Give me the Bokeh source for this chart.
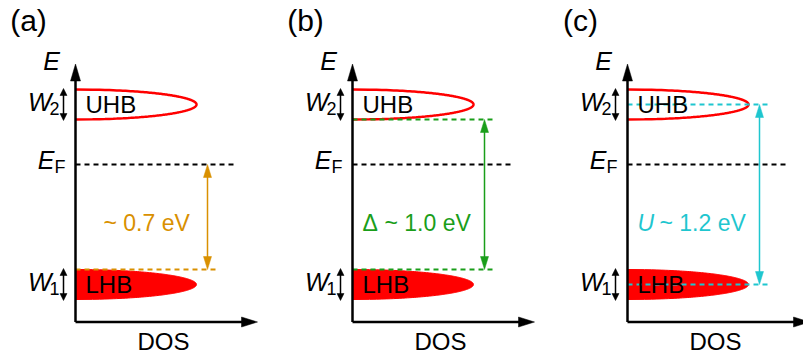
import numpy as np
from bokeh.plotting import figure
from bokeh.models import Range1d
from bokeh.core.properties import value
from bokeh.embed import file_html
from bokeh.resources import INLINE

# ---------------- data (energies in eV relative to E_F, DOS normalised) ----------------
panel_labels = ["(a)", "(b)", "(c)"]
E_F = 0.0
uhb_top, uhb_bottom = 0.50, 0.30
lhb_top, lhb_bottom = -0.70, -0.90
band_peak_dos = 1.0
gap_upper = [0.00, 0.30, 0.40]      # upper end of the gap arrow
gap_lower = [-0.70, -0.70, -0.80]   # lower end of the gap arrow
gap_symbol = ["", "Δ", "U"]
gap_text = ["~ 0.7 eV", "~ 1.0 eV", "~ 1.2 eV"]
gap_colors = ["#D99000", "#1A9E1A", "#1FC6CF"]
axis_top, axis_bottom = 0.67, -1.05

# ---------------- layout ----------------
PX_EV = 150.0        # pixels per eV
PX_DOS = 121.0       # pixels per DOS unit
Y0 = 164             # pixel row of E_F
panel_x0 = [75, 352, 627]
FONT = value("Liberation Sans")
BAND_RED = "#FF0000"
FS = "24px"
GFS = "23px"

p = figure(width=803, height=362, output_backend="svg", toolbar_location=None,
           x_range=Range1d(0, 803), y_range=Range1d(-(362 - Y0) / PX_EV, Y0 / PX_EV),
           min_border=0)
p.axis.visible = False
p.grid.visible = False
p.outline_line_color = None
p.background_fill_color = "white"
p.border_fill_color = "white"


def head(tx, ty, dx, dy, L, W):
    """triangle arrow head with tip at (tx, ty) pointing in screen direction (dx, dy)"""
    bx, by = -dx * L, -dy * L
    px_, py_ = -dy * W / 2, dx * W / 2
    xs = [tx, tx + bx + px_, tx + bx - px_]
    ys = [ty, ty + (by + py_) / PX_EV, ty + (by - py_) / PX_EV]
    return xs, ys


def add_heads(heads, color):
    p.patches([h[0] for h in heads], [h[1] for h in heads], fill_color=color,
              line_color=color, line_width=0.5)


def ey(py):
    return (Y0 - py) / PX_EV


t = np.linspace(-1, 1, 201)
ell = np.sqrt(np.clip(1 - t ** 2, 0, None))

for i, x0 in enumerate(panel_x0):
    # ---- bands ----
    uc, uh = (uhb_top + uhb_bottom) / 2, (uhb_top - uhb_bottom) / 2
    lc, lh = (lhb_top + lhb_bottom) / 2, (lhb_top - lhb_bottom) / 2
    p.line(x0 + PX_DOS * band_peak_dos * ell, uc + uh * t, line_color=BAND_RED, line_width=2.5)
    p.patch(list(x0 + PX_DOS * band_peak_dos * ell), list(lc + lh * t),
            fill_color=BAND_RED, line_color=BAND_RED, line_width=1)

    # ---- Fermi level ----
    p.line([x0, x0 + 160], [E_F, E_F], line_color="black", line_width=2, line_dash="5 4")

    # ---- gap markers ----
    c = gap_colors[i]
    levels = [gap_lower[i]] if i == 0 else [gap_upper[i], gap_lower[i]]
    for lv in levels:
        p.line([x0, x0 + 143], [lv, lv], line_color=c, line_width=2, line_dash="5 4")
    ax_ = x0 + 132
    p.line([ax_, ax_], [gap_upper[i] - 10 / PX_EV, gap_lower[i] + 10 / PX_EV], line_color=c, line_width=1.5)
    add_heads([head(ax_, gap_upper[i], 0, 1, 13, 8), head(ax_, gap_lower[i], 0, -1, 13, 8)], c)

    # ---- axes ----
    p.line([x0, x0], [axis_bottom, axis_top - 12 / PX_EV], line_color="black", line_width=2.5)
    p.line([x0, x0 + 170], [axis_bottom, axis_bottom], line_color="black", line_width=2.5)
    add_heads([head(x0, axis_top, 0, 1, 17, 10),
               head(x0 + 182, axis_bottom, 1, 0, 16, 10)], "black")

    # ---- width double arrows ----
    wx = x0 - 12
    for top, bot in [(uhb_top, uhb_bottom), (lhb_top, lhb_bottom)]:
        p.line([wx, wx], [top - 4 / PX_EV, bot + 4 / PX_EV], line_color="black", line_width=1.5)
        add_heads([head(wx, top + 1 / PX_EV, 0, 1, 7, 7),
                   head(wx, bot - 1 / PX_EV, 0, -1, 7, 7)], "black")

    # ---- text ----
    p.text([x0 - 47], [ey(20)], text=[panel_labels[i]], text_font=FONT,
           text_font_size="30px", text_align="center", text_baseline="middle")
    p.text([x0 - 24], [ey(60)], text=["E"], text_font=FONT, text_font_style="italic",
           text_font_size="25px", text_align="center", text_baseline="middle")
    # E_F
    p.text([x0 - 21], [E_F + 5 / PX_EV], text=["E"], text_font=FONT, text_font_style="italic",
           text_font_size="25px", text_align="right", text_baseline="middle")
    p.text([x0 - 21], [E_F - 2 / PX_EV], text=["F"], text_font=FONT,
           text_font_size="18px", text_align="left", text_baseline="middle")
    # W labels
    for c_, sub in [(uc, "2"), (lc, "1")]:
        p.text([x0 - 24], [c_ + 3 / PX_EV], text=["W"], text_font=FONT, text_font_style="italic",
               text_font_size="25px", text_align="right", text_baseline="middle")
        p.text([x0 - 26], [c_ - 4 / PX_EV], text=[sub], text_font=FONT,
               text_font_size="18px", text_align="left", text_baseline="middle")
    # band names
    p.text([x0 + 10, x0 + 10], [uc, lc], text=["UHB", "LHB"], text_font=FONT,
           text_font_size=FS, text_align="left", text_baseline="middle", text_color="black")
    # DOS
    p.text([x0 + 88], [ey(341)], text=["DOS"], text_font=FONT,
           text_font_size=FS, text_align="center", text_baseline="middle")
    # gap label
    gy = ey(222)
    if gap_symbol[i] == "":
        p.text([x0 + 28], [gy], text=[gap_text[i]], text_font=FONT, text_font_size=GFS,
               text_color=c, text_align="left", text_baseline="middle")
    else:
        italic = "italic" if gap_symbol[i] == "U" else "normal"
        p.text([x0 + 10], [gy], text=[gap_symbol[i]], text_font=FONT, text_font_size=GFS,
               text_font_style=italic, text_color=c, text_align="left", text_baseline="middle")
        p.text([x0 + 32], [gy], text=[gap_text[i]], text_font=FONT, text_font_size=GFS,
               text_color=c, text_align="left", text_baseline="middle")

open("out.html", "w").write(file_html(p, INLINE))
